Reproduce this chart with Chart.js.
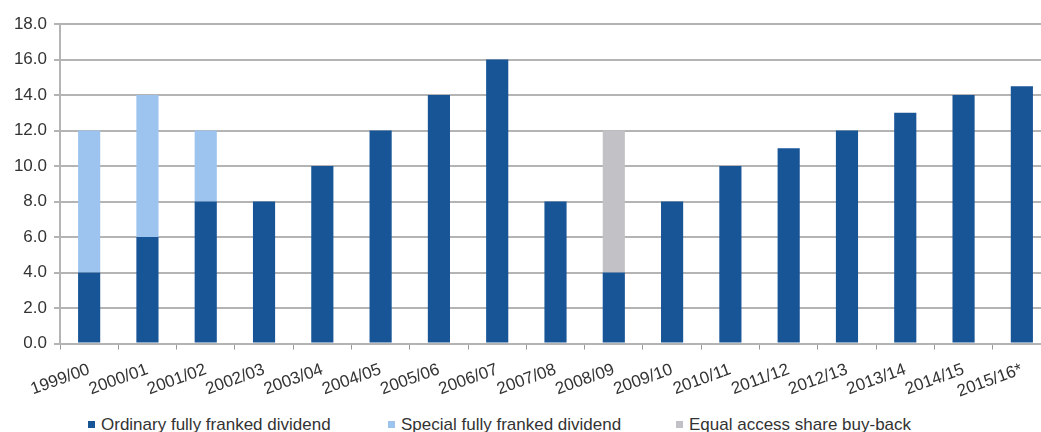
<!DOCTYPE html>
<html>
<head>
<meta charset="utf-8">
<script src="https://cdn.jsdelivr.net/npm/chart.js@4"></script>
<style>
    html, body { margin: 0; padding: 0; background: #fff; overflow: hidden; }
    #wrap { position: relative; width: 1052px; height: 432px; }
    #legend { position: absolute; top: 415px; left: 0; width: 1052px; height: 18px;
        font-family: "Liberation Sans", Arial, sans-serif; font-size: 17px; color: #333; }
    #legend span.item { position: absolute; top: 0; white-space: nowrap; }
    #legend i { display: inline-block; width: 7px; height: 7px; margin-right: 6px; vertical-align: 2px; }
</style>
</head>
<body>
<div id="wrap">
    <canvas id="chart" width="1052" height="412"></canvas>
    <div id="legend"></div>
</div>
<script>
// Dados do gráfico
const anos = ['1999/00', '2000/01', '2001/02', '2002/03', '2003/04', '2004/05', '2005/06', '2006/07',
    '2007/08', '2008/09', '2009/10', '2010/11', '2011/12', '2012/13', '2013/14', '2014/15', '2015/16*'];
const ordinario = [4, 6, 8, 8, 10, 12, 14, 16, 8, 4, 8, 10, 11, 12, 13, 14, 14.5];
const especial = [8, 8, 4, 0, 0, 0, 0, 0, 0, 0, 0, 0, 0, 0, 0, 0, 0];
const recompra = [0, 0, 0, 0, 0, 0, 0, 0, 0, 8, 0, 0, 0, 0, 0, 0, 0];
const yTicks = [0, 2, 4, 6, 8, 10, 12, 14, 16, 18];

const series = [
    { label: 'Ordinary fully franked dividend', data: ordinario, color: '#185597', legendX: 88 },
    { label: 'Special fully franked dividend', data: especial, color: '#9cc4ee', legendX: 388 },
    { label: 'Equal access share buy-back', data: recompra, color: '#c2c2c6', legendX: 676 }
];

const fonte = '"Liberation Sans", Arial, sans-serif';

new Chart(document.getElementById('chart'), {
    type: 'bar',
    data: {
        labels: anos,
        datasets: series.map(s => ({
            label: s.label,
            data: s.data,
            backgroundColor: s.color,
            categoryPercentage: 1,
            barPercentage: 0.38
        }))
    },
    options: {
        responsive: false,
        animation: false,
        layout: { padding: { top: 24, right: 1, bottom: 0, left: 0 } },
        plugins: {
            legend: { display: false },
            tooltip: { enabled: false }
        },
        scales: {
            x: {
                stacked: true,
                grid: { display: true, drawOnChartArea: false, drawTicks: true, tickLength: 6, color: '#9a9a9a', lineWidth: 1 },
                border: { display: true, color: '#b4b4b4', width: 2 },
                ticks: {
                    minRotation: 20, maxRotation: 20, autoSkip: false,
                    color: '#333', padding: 10,
                    font: { family: fonte, size: 17 }
                }
            },
            y: {
                stacked: true,
                min: 0, max: 18,
                afterBuildTicks: scale => { scale.ticks = yTicks.map(v => ({ value: v })); },
                afterFit: scale => { scale.width = 60; },
                grid: { color: '#b4b4b4', lineWidth: 2, tickLength: 6 },
                border: { display: true, color: '#b4b4b4', width: 2 },
                ticks: {
                    color: '#333', padding: 7,
                    font: { family: fonte, size: 17 },
                    callback: v => Number(v).toFixed(1)
                }
            }
        }
    }
});

// Legenda em HTML
const legenda = document.getElementById('legend');
series.forEach(s => {
    const item = document.createElement('span');
    item.className = 'item';
    item.style.left = s.legendX + 'px';
    item.innerHTML = '<i style="background:' + s.color + '"></i>' + s.label;
    legenda.appendChild(item);
});
</script>
</body>
</html>
